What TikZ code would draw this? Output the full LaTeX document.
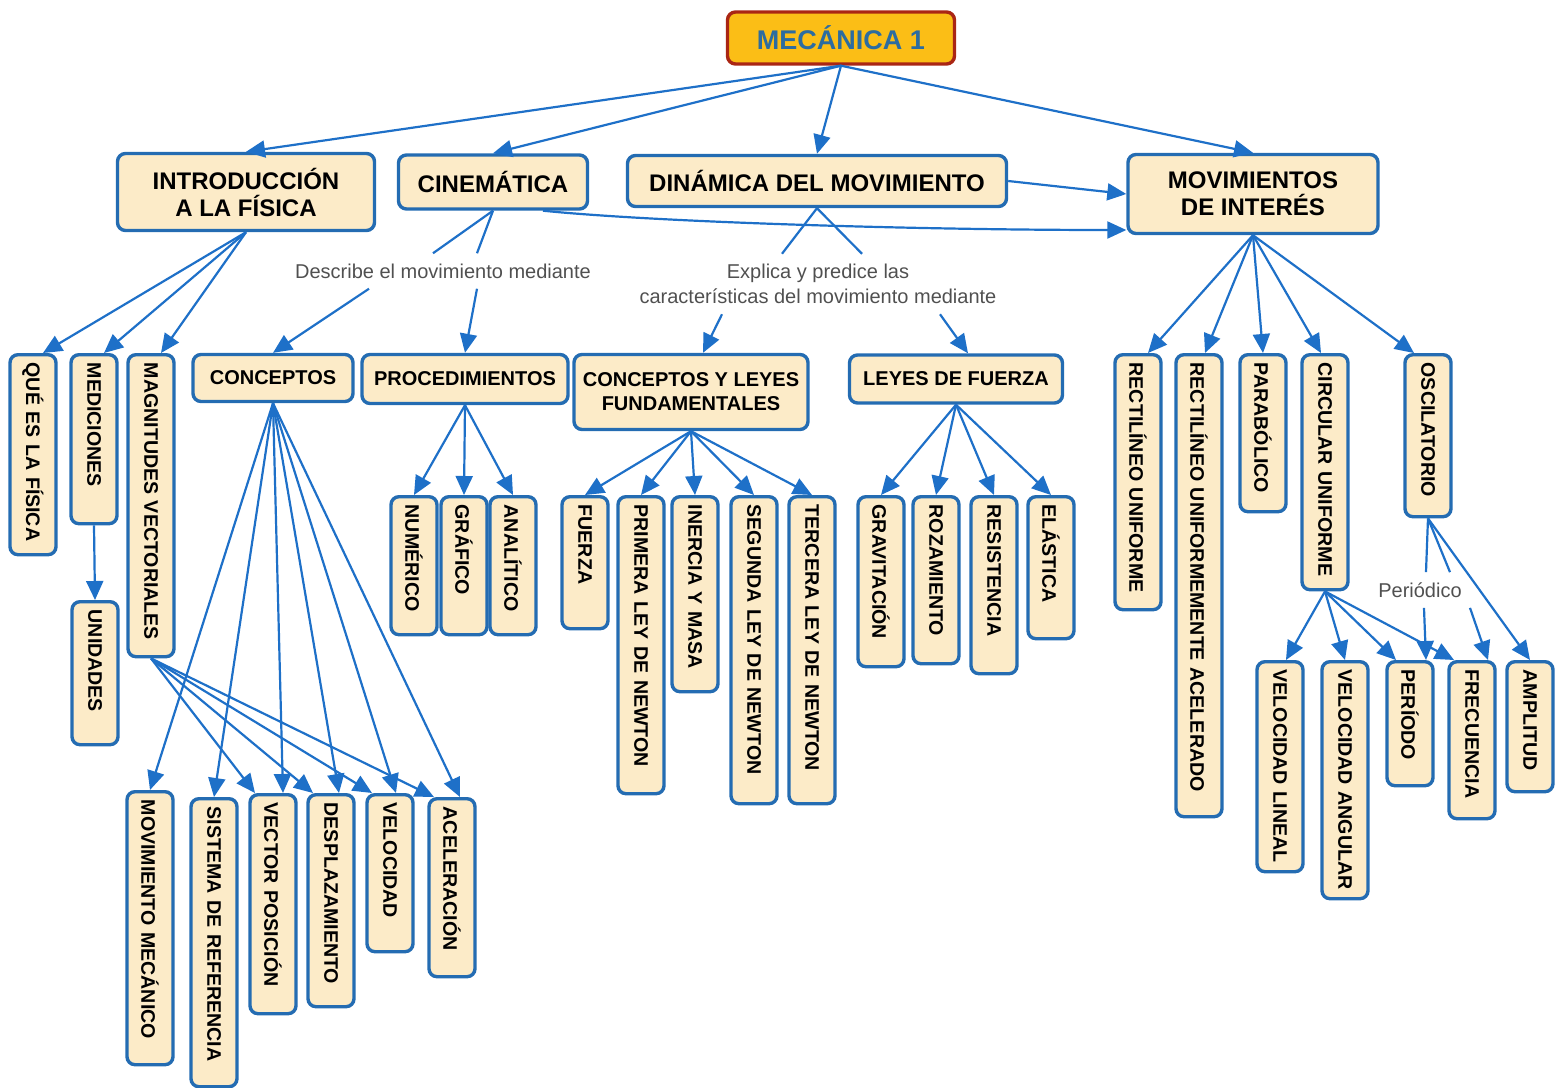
\documentclass[tikz,border=0pt]{standalone}
\usepackage{fontspec}
\setmainfont{Liberation Sans}
\usetikzlibrary{arrows.meta}

\definecolor{cajafondo}{RGB}{252,235,200}
\definecolor{cajaborde}{RGB}{36,108,178}
\definecolor{azulflecha}{RGB}{30,112,200}
\definecolor{raizfondo}{RGB}{251,190,22}
\definecolor{raizborde}{RGB}{170,38,20}
\definecolor{raiztexto}{RGB}{44,108,160}
\definecolor{grisenlace}{RGB}{80,80,80}

\tikzset{
  concepto/.style={draw=cajaborde, fill=cajafondo, line width=1.7pt, rounded corners=4pt,
    align=center, inner sep=2pt, font=\bfseries\fontsize{10}{12}\selectfont},
  principal/.style={concepto, font=\bfseries\fontsize{12}{13.5}\selectfont},
  vconcepto/.style={concepto, rotate=-90, anchor=west, align=left, minimum height=23pt,
    inner xsep=4pt, font=\bfseries\fontsize{9.8}{11}\selectfont},
  enlace/.style={text=grisenlace, align=center, inner sep=5pt, font=\fontsize{10}{12.5}\selectfont},
  linea/.style={draw=azulflecha, line width=1.1pt},
  flecha/.style={linea, -{Triangle[length=9.5pt,width=8.5pt]}}
}

\begin{document}
\begin{tikzpicture}[x=0.5pt, y=-0.5pt]
\useasboundingbox (0,0) rectangle (1555,1088);

% conceptos horizontales
\node[concepto, fill=raizfondo, draw=raizborde, text=raiztexto, minimum width=113.5pt, minimum height=26pt,
  font=\bfseries\fontsize{13.5}{16}\selectfont] (mecanica) at (841,38) {MECÁNICA 1};

\node[principal, minimum width=128.5pt, minimum height=38.5pt] (intro) at (246,192) {INTRODUCCIÓN\\A LA FÍSICA};
\node[principal, minimum width=94.5pt, minimum height=27pt] (cinematica) at (493,182) {CINEMÁTICA};
\node[principal, minimum width=189.5pt, minimum height=25.5pt] (dinamica) at (817,181) {DINÁMICA DEL MOVIMIENTO};
\node[principal, minimum width=125pt, minimum height=39.5pt] (movimientos) at (1253,194) {MOVIMIENTOS\\DE INTERÉS};

\node[concepto, minimum width=80pt, minimum height=23.5pt] (conceptos) at (273,378) {CONCEPTOS};
\node[concepto, minimum width=103pt, minimum height=24.5pt] (procedimientos) at (465,379) {PROCEDIMIENTOS};
\node[concepto, minimum width=117pt, minimum height=37.5pt] (leyesfund) at (691,392) {CONCEPTOS Y LEYES\\FUNDAMENTALES};
\node[concepto, minimum width=106.5pt, minimum height=24pt] (leyesfuerza) at (956,379) {LEYES DE FUERZA};

% frases de enlace
\node[enlace] (describe) at (443,271) {Describe el movimiento mediante};
\node[enlace] (explica) at (818,284) {Explica y predice las\\características del movimiento mediante};
\node[enlace] (periodico) at (1420,590) {Periódico};

% conceptos verticales
\foreach \nombre/\xc/\ytop/\largo/\texto in {
    quees/33/353/200/QUÉ ES LA FÍSICA,
    mediciones/94/353/169/MEDICIONES,
    magnitudes/151/353/302/MAGNITUDES VECTORIALES,
    unidades/95/600/143/UNIDADES,
    movmecanico/150/790/273/MOVIMIENTO MECÁNICO,
    sistema/214/797/288/SISTEMA DE REFERENCIA,
    vector/273/793/219/VECTOR POSICIÓN,
    desplazamiento/331/793/212/DESPLAZAMIENTO,
    velocidad/390/793/157/VELOCIDAD,
    aceleracion/452/797/178/ACELERACIÓN,
    numerico/414/495/138/NUMÉRICO,
    grafico/464/495/138/GRÁFICO,
    analitico/513/495/138/ANALÍTICO,
    fuerza/585/495/132/FUERZA,
    primera/641/495/297/PRIMERA LEY DE NEWTON,
    inercia/695/495/195/INERCIA Y MASA,
    segunda/754/495/307/SEGUNDA LEY DE NEWTON,
    tercera/812/495/307/TERCERA LEY DE NEWTON,
    gravitacion/881/495/170/GRAVITACIÓN,
    rozamiento/936/495/167/ROZAMIENTO,
    resistencia/994/495/177/RESISTENCIA,
    elastica/1051/495/142/ELÁSTICA,
    runiforme/1138/353/255/RECTILÍNEO UNIFORME,
    racelerado/1199/353/462/RECTILÍNEO UNIFORMEMENTE ACELERADO,
    parabolico/1263/353/157/PARABÓLICO,
    circular/1325/353/235/CIRCULAR UNIFORME,
    oscilatorio/1428/353/162/OSCILATORIO,
    vlineal/1280/660/210/VELOCIDAD LINEAL,
    vangular/1345/660/237/VELOCIDAD ANGULAR,
    periodo/1410/660/124/PERÍODO,
    frecuencia/1472/660/157/FRECUENCIA,
    amplitud/1530/660/130/AMPLITUD}{
  \pgfmathsetmacro\ancho{\largo/2-8}
  \node[vconcepto, text width=\ancho pt] (\nombre) at (\xc,\ytop) {\mbox{\texto}};
}

% conexiones
\foreach \destino in {intro,cinematica,dinamica,movimientos}
  \draw[flecha] (mecanica.south) -- (\destino.north);
\draw[flecha] (dinamica.east) -- (movimientos.west);
\draw[flecha] ([xshift=25pt]cinematica.south) .. controls +(120,12) and +(-200,0) .. ([yshift=-18pt]movimientos.west);

\foreach \destino in {quees,mediciones,magnitudes}
  \draw[flecha] (intro.south) -- ([xshift=5pt]\destino.west);
\draw[flecha] (mediciones.east) -- (unidades.west);

\draw[linea] (cinematica.south) -- ([xshift=-5pt]describe.north);
\draw[linea] (cinematica.south) -- ([xshift=17pt]describe.north);
\draw[flecha] ([xshift=-37pt]describe.south) -- (conceptos.north);
\draw[flecha] ([xshift=17pt]describe.south) -- (procedimientos.north);

\draw[linea] (dinamica.south) -- ([xshift=-18pt]explica.north);
\draw[linea] (dinamica.south) -- ([xshift=22pt]explica.north);
\draw[flecha] ([xshift=-48pt]explica.south) -- ([xshift=6pt]leyesfund.north);
\draw[flecha] ([xshift=61pt]explica.south) -- ([xshift=6pt]leyesfuerza.north);

\foreach \destino/\dx in {movmecanico/0,sistema/0,vector/5,desplazamiento/4,velocidad/3,aceleracion/4}
  \draw[flecha] (conceptos.south) -- ([xshift=\dx pt]\destino.west);
\foreach \destino in {vector,desplazamiento,velocidad,aceleracion}
  \draw[flecha] (magnitudes.east) -- ([xshift=-9pt]\destino.west);

\foreach \destino in {numerico,grafico,analitico}
  \draw[flecha] (procedimientos.south) -- (\destino.west);
\foreach \destino in {fuerza,primera,inercia,segunda,tercera}
  \draw[flecha] (leyesfund.south) -- (\destino.west);
\foreach \destino in {gravitacion,rozamiento,resistencia,elastica}
  \draw[flecha] (leyesfuerza.south) -- (\destino.west);

\foreach \destino/\dx in {runiforme/5,racelerado/3,parabolico/0,circular/-2,oscilatorio/-7}
  \draw[flecha] (movimientos.south) -- ([xshift=\dx pt]\destino.west);
\foreach \destino/\dx in {vlineal/3,vangular/0,periodo/-7,frecuencia/-9}
  \draw[flecha] (circular.east) -- ([xshift=\dx pt]\destino.west);

\draw[linea] (oscilatorio.east) -- ([xshift=3pt]periodico.north);
\draw[linea] (oscilatorio.east) -- ([xshift=15pt]periodico.north);
\draw[flecha] ([xshift=2pt]periodico.south) -- ([xshift=8pt]periodo.west);
\draw[flecha] ([xshift=25pt]periodico.south) -- ([xshift=8pt]frecuencia.west);
\draw[flecha] (oscilatorio.east) -- (amplitud.west);

\end{tikzpicture}
\end{document}
